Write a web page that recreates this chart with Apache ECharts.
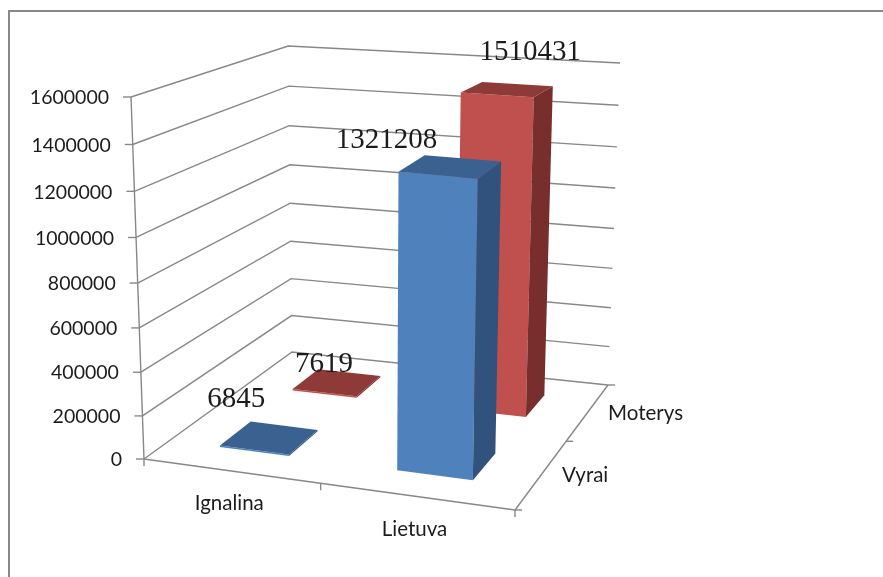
<!DOCTYPE html>
<html lang="en">
<head>
    <meta charset="UTF-8">
    <title>Ignalina / Lietuva</title>
    <script src="https://cdn.jsdelivr.net/npm/echarts@6/dist/echarts.min.js"></script>
    <style>
        html, body { margin: 0; padding: 0; background: #fff; }
        #chart-container { width: 883px; height: 577px; }
    </style>
</head>
<body>
    <div id="chart-container"></div>

    <script>
    // chart data
    var categories = ['Ignalina', 'Lietuva'];
    var depthNames = ['Vyrai', 'Moterys'];
    var vyrai = [6845, 1321208];
    var moterys = [7619, 1510431];
    var valueTicks = [0, 200000, 400000, 600000, 800000, 1000000, 1200000, 1400000, 1600000];

    var AXIS_COLOR = '#888888';
    var SANS = '"Lato", "Noto Sans", sans-serif';
    var SERIF = '"Liberation Serif", serif';
    var BAR_SHARE = 0.4; // gap width 150%
    var HEIGHT_PERSPECTIVE = -0.054;

    // unit square -> quad given as front-left, front-right, back-right, back-left
    function makePlane(fl, fr, br, bl) {
        var dx1 = fr[0] - br[0], dx2 = bl[0] - br[0];
        var dy1 = fr[1] - br[1], dy2 = bl[1] - br[1];
        var sx = fl[0] - fr[0] + br[0] - bl[0];
        var sy = fl[1] - fr[1] + br[1] - bl[1];
        var den = dx1 * dy2 - dx2 * dy1;
        var g = (sx * dy2 - dx2 * sy) / den;
        var h = (dx1 * sy - sx * dy1) / den;
        var a = fr[0] - fl[0] + g * fr[0];
        var b = bl[0] - fl[0] + h * bl[0];
        var d = fr[1] - fl[1] + g * fr[1];
        var e = bl[1] - fl[1] + h * bl[1];
        return function(u, v) {
            var w = g * u + h * v + 1;
            return [(a * u + b * v + fl[0]) / w, (d * u + e * v + fl[1]) / w];
        };
    }

    // the box as seen in the picture: floor, box height at each floor corner, where verticals meet
    var floorPlane = makePlane([144, 459], [515, 510], [608, 385], [292, 352]);
    var cornerHeights = { fl: 362, fr: 380, br: 322, bl: 306 };
    var vanish = [370, 6760];

    // u along categories, v into the depth, z up, all 0..1
    function project(u, v, z) {
        var t = z * (1 + HEIGHT_PERSPECTIVE) / (1 + HEIGHT_PERSPECTIVE * z);
        var p = floorPlane(u, v);
        var boxH = (1 - v) * ((1 - u) * cornerHeights.fl + u * cornerHeights.fr)
            + v * ((1 - u) * cornerHeights.bl + u * cornerHeights.br);
        var lean = (vanish[0] - p[0]) / (vanish[1] - p[1]);
        return [p[0] - lean * boxH * t, p[1] - boxH * t];
    }

    // hidden 100x100 grid: the library scales give u and z
    function scaled(api, catIndex, value) {
        var c = api.coord([catIndex, value]);
        return { u: c[0] / 100, z: (100 - c[1]) / 100, band: api.size([1, 0])[0] / 100 };
    }

    function line(p1, p2, width) {
        return {
            type: 'line',
            shape: { x1: p1[0], y1: p1[1], x2: p2[0], y2: p2[1] },
            style: { stroke: AXIS_COLOR, lineWidth: width || 1.4 }
        };
    }

    function text(str, x, y, font, align) {
        return {
            type: 'text',
            style: { text: str, x: x, y: y, font: font, fill: '#1c1c1c', textAlign: align, textVerticalAlign: 'middle' }
        };
    }

    function renderWall(params, api) {
        var s = scaled(api, 0, api.value(1));
        var p0 = project(0, 0, s.z), p1 = project(0, 1, s.z), p2 = project(1, 1, s.z);
        return {
            type: 'group',
            children: [
                { type: 'polyline', shape: { points: [p0, p1, p2] }, style: { stroke: AXIS_COLOR, fill: null, lineWidth: 1.4 } },
                line([p0[0] - 8, p0[1]], p0),
                text(String(api.value(1)), p0[0] - 22, p0[1] + 1, '19.5px ' + SANS, 'right')
            ]
        };
    }

    function renderFrameAxes() {
        var bottom = [project(0, 0, 0), project(0.5, 0, 0), project(1, 0, 0)];
        var side = [project(1, 0, 0), project(1, 0.5, 0), project(1, 1, 0)];
        var children = [
            line(project(0, 0, 0), project(0, 0, 1)),
            line(bottom[0], bottom[2]),
            line(side[0], side[2])
        ];
        bottom.forEach(function(p) { children.push(line(p, [p[0], p[1] + 7])); });
        side.forEach(function(p) { children.push(line(p, [p[0] + 7, p[1]])); });
        return { type: 'group', children: children };
    }

    function renderCategoryLabel(params, api) {
        var s = scaled(api, api.value(0), 0);
        var p = project(s.u, 0, 0);
        return text(categories[api.value(0)], p[0] - 1, p[1] + 33, '20.5px ' + SANS, 'center');
    }

    function renderDepthLabel(params, api) {
        var i = api.value(0);
        var p = project(1, (i + 0.5) / depthNames.length, 0);
        return text(depthNames[i], p[0] + 20, p[1] + 2, '20.5px ' + SANS, 'left');
    }

    function barRenderer(depthIndex, colors) {
        return function(params, api) {
            var s = scaled(api, api.value(0), api.value(1));
            var uHalf = s.band * BAR_SHARE / 2;
            var vBand = 1 / depthNames.length;
            var vMid = (depthIndex + 0.5) * vBand, vHalf = vBand * BAR_SHARE / 2;
            var u0 = s.u - uHalf, u1 = s.u + uHalf, v0 = vMid - vHalf, v1 = vMid + vHalf;
            function face(points, fill) {
                return { type: 'polygon', shape: { points: points }, style: { fill: fill } };
            }
            return {
                type: 'group',
                children: [
                    face([project(u0, v0, 0), project(u1, v0, 0), project(u1, v0, s.z), project(u0, v0, s.z)], colors[0]),
                    face([project(u1, v0, 0), project(u1, v1, 0), project(u1, v1, s.z), project(u1, v0, s.z)], colors[1]),
                    face([project(u0, v0, s.z), project(u1, v0, s.z), project(u1, v1, s.z), project(u0, v1, s.z)], colors[2])
                ]
            };
        };
    }

    // data labels were moved by hand in the original, offsets from the top face centre
    var labelOffsets = [
        [[-33, -38], [-64, -26]],
        [[-13, -18], [23, -37]]
    ];

    function labelRenderer(depthIndex) {
        return function(params, api) {
            var i = api.value(0);
            var s = scaled(api, i, api.value(1));
            var p = project(s.u, (depthIndex + 0.5) / depthNames.length, s.z);
            var off = labelOffsets[depthIndex][i];
            return text(String(api.value(1)), p[0] + off[0], p[1] + off[1], '29px ' + SERIF, 'center');
        };
    }

    function toPoints(values) {
        return values.map(function(v, i) { return [i, v]; });
    }

    function customSeries(render, data, z) {
        return { type: 'custom', renderItem: render, data: data, z: z, silent: true, clip: false };
    }

    var blue = ['#4f81bd', '#30527d', '#3a618f'];
    var red = ['#c0504d', '#772e2c', '#8e3a38'];

    var option = {
        animation: false,
        backgroundColor: '#ffffff',
        grid: { left: 0, top: 0, width: 100, height: 100 },
        xAxis: { type: 'category', data: categories, show: false },
        yAxis: { type: 'value', min: 0, max: 1600000, interval: 200000, show: false },
        graphic: [{
            type: 'polyline',
            shape: { points: [[9, 577], [9, 11], [883, 11]] },
            style: { stroke: '#888888', fill: null, lineWidth: 2 }
        }],
        series: [
            customSeries(renderWall, valueTicks.map(function(v) { return [0, v]; }), 1),
            customSeries(renderFrameAxes, [[0, 0]], 1),
            customSeries(renderCategoryLabel, toPoints([0, 0]), 1),
            customSeries(renderDepthLabel, toPoints([0, 0]), 1),
            customSeries(barRenderer(1, red), toPoints(moterys), 2),
            customSeries(barRenderer(0, blue), toPoints(vyrai), 3),
            customSeries(labelRenderer(1), toPoints(moterys), 4),
            customSeries(labelRenderer(0), toPoints(vyrai), 4)
        ]
    };

    var chart = echarts.init(document.getElementById('chart-container'));
    chart.setOption(option);
    </script>
</body>
</html>
